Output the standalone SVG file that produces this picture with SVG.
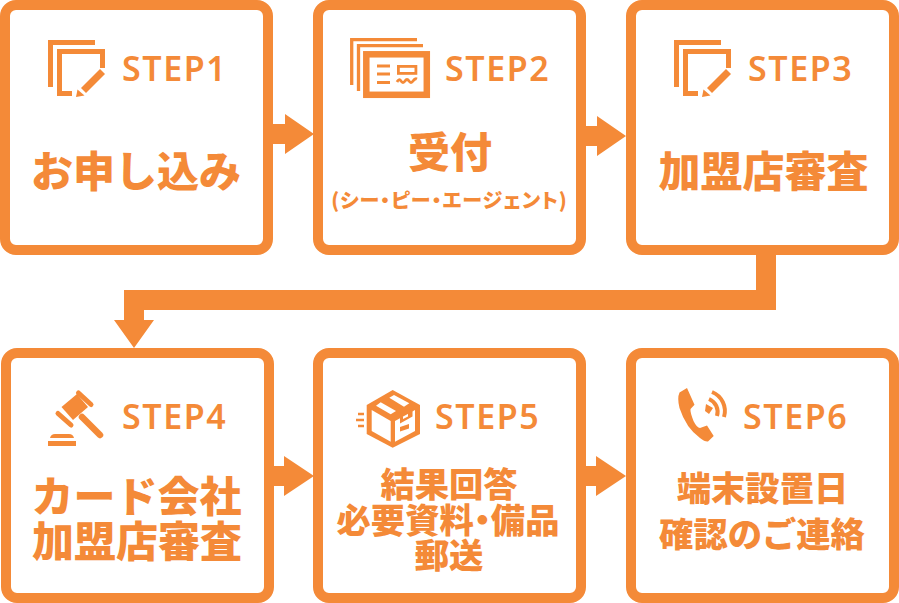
<svg xmlns="http://www.w3.org/2000/svg" xmlns:xlink="http://www.w3.org/1999/xlink" width="899" height="603" viewBox="0 0 899 603">
<style>
.box{fill:#fff;stroke:#f48a38;stroke-width:10}
.c{fill:#f48a38}
.l{fill:none;stroke:#f48a38}
.w{fill:#fff}
text{fill:#f48a38;text-anchor:middle;font-family:"Noto Sans CJK JP","Noto Sans",sans-serif}
.s{font-family:"Noto Sans","Noto Sans CJK JP",sans-serif;font-weight:600;font-size:34px;letter-spacing:1.6px;text-anchor:start}
.t{font-weight:900;font-size:42px}
.m{font-weight:900;font-size:34.300px}
.p{font-feature-settings:"palt"}
.x{font-weight:900;font-size:20px;letter-spacing:1px;font-feature-settings:"palt"}
</style>
<defs>
<g id="pen">
<path class="l" stroke-width="5" d="M50.500 87V42.500H95"/>
<path class="l" stroke-width="5" d="M72 93.500H59.500V51.500H102.500V68"/>
<path class="c" d="M100 69L105 74L86 93L81 88Z"/>
<path class="c" d="M77.500 89.500L84.500 95.500L76 97Z"/>
</g>
</defs>
<g id="connectors">
<path class="c" d="M273 124H285V114L314 134L285 154V144H273Z"/>
<path class="c" d="M586 126H597V116L626 136L597 156V146H586Z"/>
<path class="c" d="M756 255H776V310H144V320H154L134 348L114 320H124V290H756Z"/>
<path class="c" d="M274 466H284V456L314 476L284 496V486H274Z"/>
<path class="c" d="M586 466H596V456L626 476L596 496V486H586Z"/>
</g>
<g id="step1">
<rect class="box" x="5" y="5" width="263" height="245" rx="11"/>
<use xlink:href="#pen"/>
<text class="s" x="122" y="80.500">STEP1</text>
<text class="t" x="136" y="187">お申し込み</text>
</g>
<g id="step2">
<rect class="box" x="318" y="5" width="263" height="245" rx="11"/>
<path class="l" stroke-width="3.300" d="M351.700 85V39.700H417"/>
<path class="l" stroke-width="3.300" d="M358.500 91V45.700H423"/>
<rect class="l" stroke-width="6.500" x="366.300" y="54.300" width="60.500" height="40.500"/>
<path class="l" stroke-width="3" d="M377 66H390M377 74H390M377 82.500H390"/>
<rect class="l" stroke-width="2.800" x="398.400" y="66.400" width="17.500" height="7"/>
<path class="l" stroke-width="2.800" d="M397 82Q399 78 401 81T405 81T409 81T413 81T417 79"/>
<text class="s" x="445" y="80.500">STEP2</text>
<text class="t" x="450" y="167.500">受付</text>
<text class="x" x="449.500" y="207.500">(シー・ピー・エージェント)</text>
</g>
<g id="step3">
<rect class="box" x="631" y="5" width="263" height="245" rx="11"/>
<use xlink:href="#pen" x="626"/>
<text class="s" x="748" y="80.500">STEP3</text>
<text class="t" x="763.500" y="187">加盟店審査</text>
</g>
<g id="step4">
<rect class="box" x="6" y="353" width="263" height="245" rx="11"/>
<path class="c" d="M61.500 407L77 394L88 407L73 420Z"/>
<path class="l" stroke-width="5" stroke-linecap="round" d="M78.500 393L91 404.500M58 413.500L71 425"/>
<path class="l" stroke-width="6.500" stroke-linecap="round" d="M82 417L100 435"/>
<path class="c" d="M50 438Q51 434 55 434H69Q73 434 74 438Z"/>
<rect class="c" x="48" y="441" width="28" height="5"/>
<text class="s" x="122" y="428.500">STEP4</text>
<text class="t"><tspan x="136.500" y="512">カード会社</tspan><tspan x="137" y="557">加盟店審査</tspan></text>
</g>
<g id="step5">
<rect class="box" x="318" y="353" width="263" height="245" rx="11"/>
<path class="c" d="M392.700 390L420 405V434L392.700 447.700L366.700 434V405Z"/>
<path class="w" d="M371.700 410L390.700 421V441.700L371.700 431Z"/>
<path class="w" d="M395 421L415 410V431L395 441.700Z"/>
<path class="w" d="M376 405.700L380.700 402.300L396 411L390.700 414.300Z"/>
<path class="w" d="M389.300 397.700L394 395L409.300 403.300L404 406.700Z"/>
<path class="c" d="M400 417.500L403 416V419L408 416.500V412L412.500 409.500V416.500L400 423.500Z"/>
<path class="c" d="M400 427L409 424V428.500L400 431.500Z"/>
<path class="l" stroke-width="2.500" d="M358 414H364M356 420H364M358 426H364"/>
<text class="s" x="435" y="428.500">STEP5</text>
<text class="m p"><tspan x="449" y="497">結果回答</tspan><tspan x="448" y="533">必要資料・備品</tspan><tspan x="449" y="568">郵送</tspan></text>
</g>
<g id="step6">
<rect class="box" x="631" y="353" width="263" height="245" rx="11"/>
<path class="c" d="M687 388L679.500 392.500Q677 398 679.500 408Q686 428 700 438Q705 442 708 441.500L713.700 436L707 425.500L700 428Q697 428 693.500 421Q690 412 690.500 409L694.500 404.700Z"/>
<path class="l" stroke-width="4" d="M709 399A14 14 0 0 1 717 416"/>
<path class="l" stroke-width="4" d="M712 392A20.500 20.500 0 0 1 724 417"/>
<path class="c" d="M706 404L713 408L709 414L705 411Z"/>
<text class="s" x="743" y="428.500">STEP6</text>
<text class="m"><tspan x="762.500" y="501">端末設置日</tspan><tspan x="762" y="547">確認のご連絡</tspan></text>
</g>
</svg>
